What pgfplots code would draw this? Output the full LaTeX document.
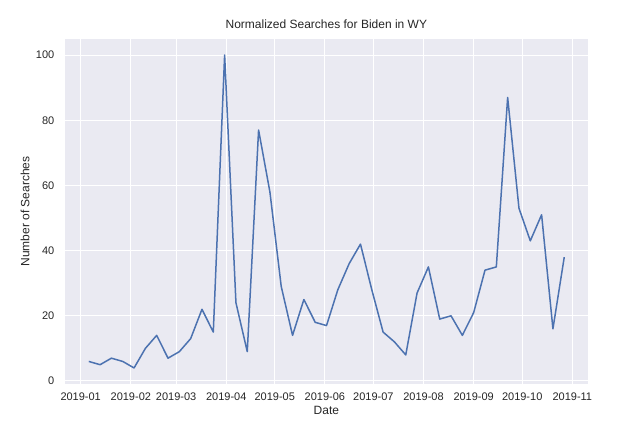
\documentclass[border=0pt]{standalone}
\usepackage{fontspec}
\setmainfont{Liberation Sans}
\usepackage{pgfplots}
\pgfplotsset{compat=1.18}
\definecolor{sbbg}{HTML}{EAEAF2}
\definecolor{sbline}{HTML}{4C72B0}
\definecolor{sbtext}{HTML}{262626}
\begin{document}
\begin{tikzpicture}
\path[use as bounding box] (-65pt,-50.4pt) rectangle (567pt,383.6pt);
\begin{axis}[
  at={(0pt,0pt)}, anchor=south west,
  width=522.7pt, height=344.2pt, scale only axis,
  xmin=-9.7, xmax=313.5, ymin=-0.8, ymax=104.8,
  axis background/.style={fill=sbbg},
  axis line style={draw=none},
  grid=major, major grid style={white, line width=1pt},
  tick style={draw=none},
  xtick={0,31,59,90,120,151,181,212,243,273,304},
  xticklabels={2019-01,2019-02,2019-03,2019-04,2019-05,2019-06,2019-07,2019-08,2019-09,2019-10,2019-11},
  ytick={0,20,40,60,80,100},
  /pgf/number format/assume math mode=true,
  xticklabel style={font=\fontsize{11}{13}\selectfont, text=sbtext, anchor=north, inner sep=0pt, yshift=-8.7pt},
  yticklabel style={font=\fontsize{11}{13}\selectfont, text=sbtext, anchor=east, inner sep=0pt, xshift=-10.5pt},
  title={Normalized Searches for Biden in WY},
  title style={font=\fontsize{12}{14}\selectfont, text=sbtext, at={(axis description cs:0.5,1.0154)}, anchor=base, inner sep=0pt},
  xlabel={Date},
  xlabel style={font=\fontsize{12}{14}\selectfont, text=sbtext, at={(axis description cs:0.5,-0.0912)}, anchor=base, inner sep=0pt},
  ylabel={Number of Searches},
  ylabel style={font=\fontsize{12}{14}\selectfont, text=sbtext, at={(axis description cs:-0.0683,0.5)}, anchor=base, inner sep=0pt},
]
\addplot[sbline, line width=1.5pt, line join=round] coordinates {
(5,6) (12,5) (19,7) (26,6) (33,4)
(40,10) (47,14) (54,7) (61,9)
(68,13) (75,22) (82,15) (89,100)
(96,24) (103,9) (110,77) (117,58)
(124,29) (131,14) (138,25) (145,18) (152,17)
(159,28) (166,36) (173,42) (180,28)
(187,15) (194,12) (201,8) (208,27)
(215,35) (222,19) (229,20) (236,14)
(243,21) (250,34) (257,35) (264,87) (271,53)
(278,43) (285,51) (292,16) (299,38)
};
\end{axis}
\end{tikzpicture}
\end{document}
